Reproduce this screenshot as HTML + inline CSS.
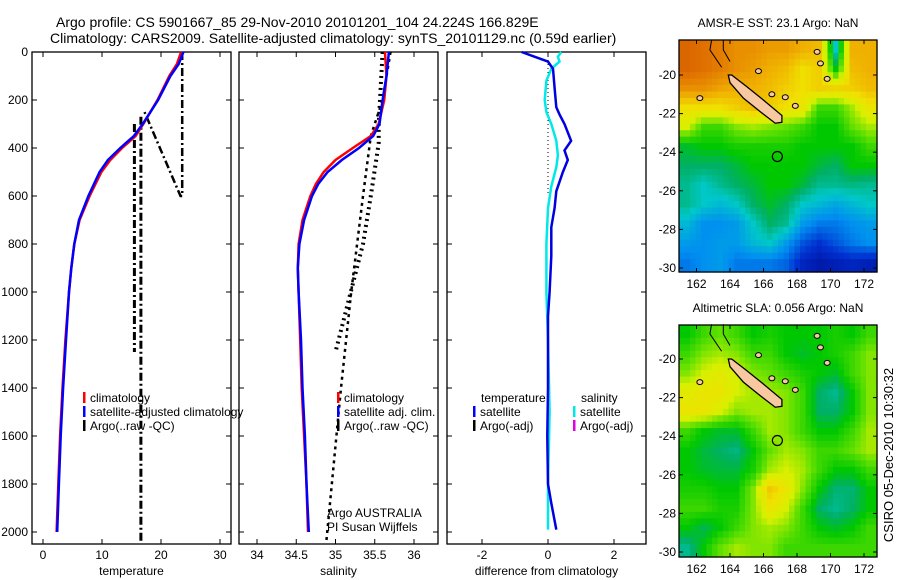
<!DOCTYPE html>
<html><head><meta charset="utf-8"><style>
body{margin:0;background:#fff;}
svg{display:block;font-family:"Liberation Sans",sans-serif;}
text{fill:#000;}
</style></head><body>
<svg id="s" width="900" height="580" viewBox="0 0 900 580" xmlns="http://www.w3.org/2000/svg">
<text x="56" y="27" font-size="14">Argo profile: CS 5901667_85 29-Nov-2010 20101201_104 24.224S 166.829E</text>
<text x="50" y="43" font-size="14">Climatology: CARS2009. Satellite-adjusted climatology: synTS_20101129.nc (0.59d earlier)</text>
<text x="888" y="450" font-size="13" text-anchor="middle" transform="rotate(-90 893 450)">CSIRO 05-Dec-2010 10:30:32</text>
<g id="g"></g>
</svg>
<script>
// ---------- data ----------
const depthTicks=[0,200,400,600,800,1000,1200,1400,1600,1800,2000];
const tempTicks=[0,10,20,30];
const salTicks=[34,34.5,35,35.5,36];
const diffTicks=[-2,0,2];
const tClimDepth=[0,50,100,200,300,350,400,450,500,600,700,800,900,1000,1200,1400,1600,1800,2000];
const tClim=[23.4,22.7,21.4,19.4,17.0,15.7,13.4,11.4,9.9,7.9,6.2,5.3,4.8,4.4,3.8,3.3,2.9,2.6,2.3];
const tSat=[23.8,23.0,21.6,19.5,16.9,15.4,13.1,11.0,9.6,7.7,6.1,5.3,4.8,4.4,3.9,3.4,3.0,2.7,2.4];
const sClimDepth=[0,100,200,300,350,400,450,500,550,600,700,800,900,1000,1200,1400,1600,1800,2000];
const sClim=[35.63,35.65,35.62,35.55,35.45,35.22,35.0,34.85,34.75,34.68,34.58,34.53,34.52,34.53,34.55,34.57,34.6,34.63,34.65];
const sSat=[35.68,35.65,35.6,35.56,35.48,35.3,35.08,34.9,34.78,34.7,34.6,34.54,34.52,34.53,34.56,34.58,34.61,34.63,34.66];
const argoT1Depth=[270,2040];const argoT1=[16.6,16.6];
const argoT2Depth=[300,1250];const argoT2=[15.5,15.5];
const argoT3Depth=[0,600,600,250];const argoT3=[23.6,23.6,23.3,17.2];
const argoSDepth=[0,200,350,600,1000,1400,2050];const argoS=[35.7,35.6,35.45,35.35,35.2,35.07,34.88];
const argoS2Depth=[0,300,380,600,800,1250];const argoS2=[35.6,35.55,35.55,35.45,35.35,35.0];
const dDepth=[0,20,40,70,150,230,260,300,370,410,450,500,580,650,730,850,1000,1100,1400,1600,1800,1880,1990];
const dTemp=[-0.8,-0.4,0,0.15,0.2,0.25,0.35,0.5,0.7,0.5,0.6,0.45,0.25,0.2,0.1,0.1,0.05,0,0,-0.02,0,0.1,0.25];
const dSalDepth=[0,20,40,70,120,200,250,300,370,430,480,560,650,800,1000,1200,1500,1800,1990];
const dSal=[0.4,0.3,0.35,0.1,-0.05,-0.1,-0.05,0.1,0.25,0.3,0.25,0.1,0,-0.05,-0.05,0,0.05,0,0];
const lonTicks=[162,164,166,168,170,172];
const latTicks=[-20,-22,-24,-26,-28,-30];
const sstGrid=[
[0.92,0.9,0.88,0.85,0.85,0.83,0.83,0.8,0.78,0.38,0.8,0.8],
[0.92,0.9,0.88,0.85,0.83,0.8,0.78,0.72,0.75,0.5,0.78,0.8],
[0.85,0.85,0.82,0.8,0.8,0.78,0.75,0.72,0.75,0.74,0.75,0.78],
[0.72,0.72,0.72,0.75,0.78,0.75,0.72,0.7,0.55,0.55,0.62,0.7],
[0.65,0.55,0.55,0.6,0.62,0.6,0.58,0.55,0.5,0.5,0.58,0.62],
[0.48,0.5,0.5,0.52,0.52,0.52,0.52,0.5,0.5,0.5,0.5,0.55],
[0.45,0.45,0.45,0.47,0.5,0.5,0.5,0.5,0.47,0.45,0.5,0.5],
[0.42,0.38,0.42,0.45,0.47,0.5,0.5,0.47,0.42,0.42,0.43,0.42],
[0.42,0.38,0.35,0.38,0.45,0.48,0.45,0.38,0.35,0.32,0.35,0.38],
[0.35,0.28,0.28,0.3,0.38,0.45,0.42,0.3,0.25,0.25,0.28,0.3],
[0.3,0.28,0.3,0.3,0.35,0.38,0.3,0.2,0.15,0.2,0.25,0.28],
[0.25,0.28,0.3,0.25,0.25,0.25,0.22,0.12,0.08,0.1,0.12,0.1]];
const slaGrid=[
[0.5,0.55,0.58,0.55,0.5,0.52,0.5,0.5,0.5,0.52,0.5,0.55],
[0.55,0.6,0.62,0.6,0.55,0.55,0.5,0.48,0.5,0.52,0.55,0.6],
[0.6,0.65,0.68,0.65,0.6,0.58,0.55,0.52,0.5,0.48,0.55,0.6],
[0.68,0.7,0.7,0.65,0.62,0.62,0.6,0.55,0.45,0.42,0.5,0.6],
[0.7,0.7,0.65,0.6,0.62,0.62,0.6,0.55,0.45,0.45,0.5,0.6],
[0.55,0.5,0.48,0.48,0.55,0.62,0.6,0.55,0.5,0.5,0.55,0.62],
[0.5,0.47,0.45,0.43,0.5,0.58,0.62,0.6,0.55,0.55,0.58,0.62],
[0.5,0.48,0.47,0.47,0.52,0.62,0.65,0.62,0.55,0.5,0.5,0.55],
[0.52,0.52,0.5,0.5,0.6,0.76,0.7,0.6,0.5,0.44,0.44,0.5],
[0.55,0.55,0.52,0.52,0.6,0.7,0.65,0.55,0.45,0.42,0.45,0.5],
[0.5,0.46,0.5,0.55,0.6,0.62,0.6,0.55,0.5,0.48,0.5,0.55],
[0.42,0.5,0.58,0.62,0.6,0.6,0.55,0.55,0.55,0.55,0.55,0.55]];
const ncLon=[163.9,164.1,165.0,166.0,167.1,167.1,166.7,165.8,164.8,164.0];
const ncLat=[-20.0,-20.0,-20.6,-21.3,-22.1,-22.45,-22.5,-21.9,-21.2,-20.4];
const isLon=[166.5,167.3,167.9,169.2,169.4,169.8,162.2,165.7];
const isLat=[-21.0,-21.15,-21.6,-18.8,-19.4,-20.2,-21.2,-19.8];
const argoLon=166.829, argoLat=-24.224;

const NS="http://www.w3.org/2000/svg";
const G=document.getElementById('g');
function el(t,a,p){const e=document.createElementNS(NS,t);for(const k in a)e.setAttribute(k,a[k]);(p||G).appendChild(e);return e;}
function txt(x,y,s,sz,anchor,p){const e=el('text',{x:x,y:y,'font-size':sz||12,'text-anchor':anchor||'start'},p);e.textContent=s;return e;}

const PT=52,PB=544;
const yD=d=>PT+d*0.24;
const panels=[
 {x0:32,x1:231,sx:v=>43+v*5.9,ticks:tempTicks,label:'temperature',name:'temperature'},
 {x0:239,x1:438,sx:v=>257+(v-34)*78.5,ticks:salTicks,label:'salinity',name:'salinity'},
 {x0:447,x1:646,sx:v=>548+v*33,ticks:diffTicks,label:'difference from climatology',name:'difference'}];
panels.forEach((P,i)=>{
 const g=el('g',{});
 
 
 el('rect',{x:P.x0,y:PT,width:P.x1-P.x0,height:PB-PT,fill:'none',stroke:'#000','stroke-width':1.3},g);
 P.ticks.forEach(t=>{const x=P.sx(t);
  el('line',{x1:x,x2:x,y1:PB,y2:PB-5,stroke:'#000'},g);el('line',{x1:x,x2:x,y1:PT,y2:PT+5,stroke:'#000'},g);
  const l=txt(x,559,String(t),12,'middle',g);
  
  });
 depthTicks.forEach(d=>{const y=yD(d);
  el('line',{x1:P.x0,x2:P.x0+5,y1:y,y2:y,stroke:'#000'},g);el('line',{x1:P.x1,x2:P.x1-5,y1:y,y2:y,stroke:'#000'},g);
  if(i==0){const l=txt(28,y+4,String(d),12,'end',g);
   
   }});
 const xl=txt((P.x0+P.x1)/2,575,P.label,12,'middle',g);
 
 
 P.g=g;
});
function line(P,vals,deps,col,w,dash,name){
 const pts=vals.map((v,k)=>P.sx(v).toFixed(1)+','+yD(deps[k]).toFixed(1)).join(' ');
 const e=el('polyline',{points:pts,fill:'none',stroke:col,'stroke-width':w,'stroke-dasharray':dash||'none'},P.g);
 
 
}
const [P1,P2,P3]=panels;
line(P1,argoT1,argoT1Depth,'#000',3,'8,3,2,3','argo-temp-trace');
line(P1,argoT2,argoT2Depth,'#000',3,'8,3,2,3','argo-temp-trace');
line(P1,argoT3,argoT3Depth,'#000',2.5,'8,3,2,3','argo-temp-trace');
line(P1,tClim,tClimDepth,'#f00',2.5,null,'temp-climatology-line');
line(P1,tSat,tClimDepth,'#00f',2.5,null,'temp-satellite-line');
line(P2,argoS,argoSDepth,'#000',2.5,'3,4','argo-salinity-trace');
line(P2,argoS2,argoS2Depth,'#000',4,'2,4','argo-salinity-trace');
line(P2,sClim,sClimDepth,'#f00',2.5,null,'salinity-climatology-line');
line(P2,sSat,sClimDepth,'#00f',2.5,null,'salinity-satellite-line');
line(P3,[0,0],[0,600],'#000',1,'1,3','zero-reference-line');
line(P3,dSal,dSalDepth,'#00e8e8',2.5,null,'salinity-diff-line');
line(P3,dTemp,dDepth,'#0000e0',2.5,null,'temp-diff-line');

function leg(x,y,col,s,p){const g=el('g',{},p);
 
 
 el('rect',{x:x,y:y-10,width:2.5,height:11,fill:col},g);txt(x+7,y,s,12,'start',g);}
leg(83,402,'#f00','climatology',P1.g);leg(83,416,'#00f','satellite-adjusted climatology',P1.g);leg(83,430,'#000','Argo(..raw -QC)',P1.g);
leg(337,402,'#f00','climatology',P2.g);leg(337,416,'#00f','satellite adj. clim.',P2.g);leg(337,430,'#000','Argo(..raw -QC)',P2.g);
txt(327,517,'Argo AUSTRALIA',12,'start',P2.g);txt(327,531,'PI Susan Wijffels',12,'start',P2.g);
txt(481,402,'temperature',12,'start',P3.g);txt(581,402,'salinity',12,'start',P3.g);
leg(473,416,'#00f','satellite',P3.g);leg(473,430,'#000','Argo(-adj)',P3.g);
leg(573,416,'#00e8e8','satellite',P3.g);leg(573,430,'#e000e0','Argo(-adj)',P3.g);

// ---------- maps ----------
const stops=[[0,[0,0,128]],[0.15,[0,48,208]],[0.28,[0,144,240]],[0.38,[0,200,200]],[0.45,[0,176,100]],[0.5,[0,200,0]],[0.58,[96,224,0]],[0.65,[216,240,0]],[0.72,[240,224,0]],[0.8,[240,176,0]],[0.9,[224,112,0]],[1,[192,64,0]]];
function cmap(v){for(let i=1;i<stops.length;i++){if(v<=stops[i][0]){const a=stops[i-1],b=stops[i],t=(v-a[0])/(b[0]-a[0]);return 'rgb('+a[1].map((c,k)=>Math.round(c+(b[1][k]-c)*t)).join(',')+')';}}return 'rgb(192,64,0)';}
function drawMap(top,y20,grid,title,name){
 const g=el('g',{});
 
 
 const X0=679,X1=877,Y0=top,Y1=top+232;
 const mx=lon=>696.5+(lon-162)*16.75, my=lat=>y20+(-20-lat)*19.3;
 const R=grid.length,C=grid[0].length,sub=3;
 const cw=(X1-X0)/(C*sub),ch=(Y1-Y0)/(R*sub);
 for(let r=0;r<R*sub;r++)for(let c=0;c<C*sub;c++){
  const fr=Math.min(Math.max((r+0.5)/sub-0.5,0),R-1),fc=Math.min(Math.max((c+0.5)/sub-0.5,0),C-1);
  const r0=Math.floor(fr),c0=Math.floor(fc),r1=Math.min(r0+1,R-1),c1=Math.min(c0+1,C-1),tr=fr-r0,tc=fc-c0;
  const v=(grid[r0][c0]*(1-tc)+grid[r0][c1]*tc)*(1-tr)+(grid[r1][c0]*(1-tc)+grid[r1][c1]*tc)*tr;
  el('rect',{x:(X0+c*cw).toFixed(2),y:(Y0+r*ch).toFixed(2),width:(cw+0.6).toFixed(2),height:(ch+0.6).toFixed(2),fill:cmap(v)},g);}
 el('polygon',{points:ncLon.map((l,k)=>mx(l)+','+my(ncLat[k])).join(' '),fill:'#f8c8a0',stroke:'#000','stroke-width':1.3},g);
 isLon.forEach((l,k)=>el('ellipse',{cx:mx(l),cy:my(isLat[k]),rx:3,ry:2.5,fill:'#f8c8a0',stroke:'#000','stroke-width':1},g));
 el('polyline',{points:[mx(162.9)+','+my(-18.2),mx(162.8)+','+my(-18.7),mx(163.5)+','+my(-19.6)].join(' '),fill:'none',stroke:'#000','stroke-width':1},g);
 el('polyline',{points:[mx(163.6)+','+my(-18.2),mx(163.6)+','+my(-18.7),mx(164)+','+my(-19.3)].join(' '),fill:'none',stroke:'#000','stroke-width':1},g);
 el('circle',{cx:mx(argoLon),cy:my(argoLat),r:5,fill:'none',stroke:'#000','stroke-width':1.2},g);
 el('rect',{x:X0,y:Y0,width:X1-X0,height:Y1-Y0,fill:'none',stroke:'#000','stroke-width':1.3},g);
 lonTicks.forEach(l=>{const x=mx(l);el('line',{x1:x,x2:x,y1:Y1,y2:Y1-4,stroke:'#000'},g);el('line',{x1:x,x2:x,y1:Y0,y2:Y0+4,stroke:'#000'},g);
  const t=txt(x,Y1+16,String(l),12,'middle',g);
  
  });
 latTicks.forEach(l=>{const y=my(l);el('line',{x1:X0,x2:X0+4,y1:y,y2:y,stroke:'#000'},g);el('line',{x1:X1,x2:X1-4,y1:y,y2:y,stroke:'#000'},g);
  const t=txt(X0-3,y+4,String(l),12,'end',g);
  
  });
 const tt=txt(778,top-13,title,12,'middle',g);
 
 
}
drawMap(40,75,sstGrid,'AMSR-E SST: 23.1 Argo: NaN','sst-map');
drawMap(325,359,slaGrid,'Altimetric SLA: 0.056 Argo: NaN','sla-map');
</script>
</body></html>
